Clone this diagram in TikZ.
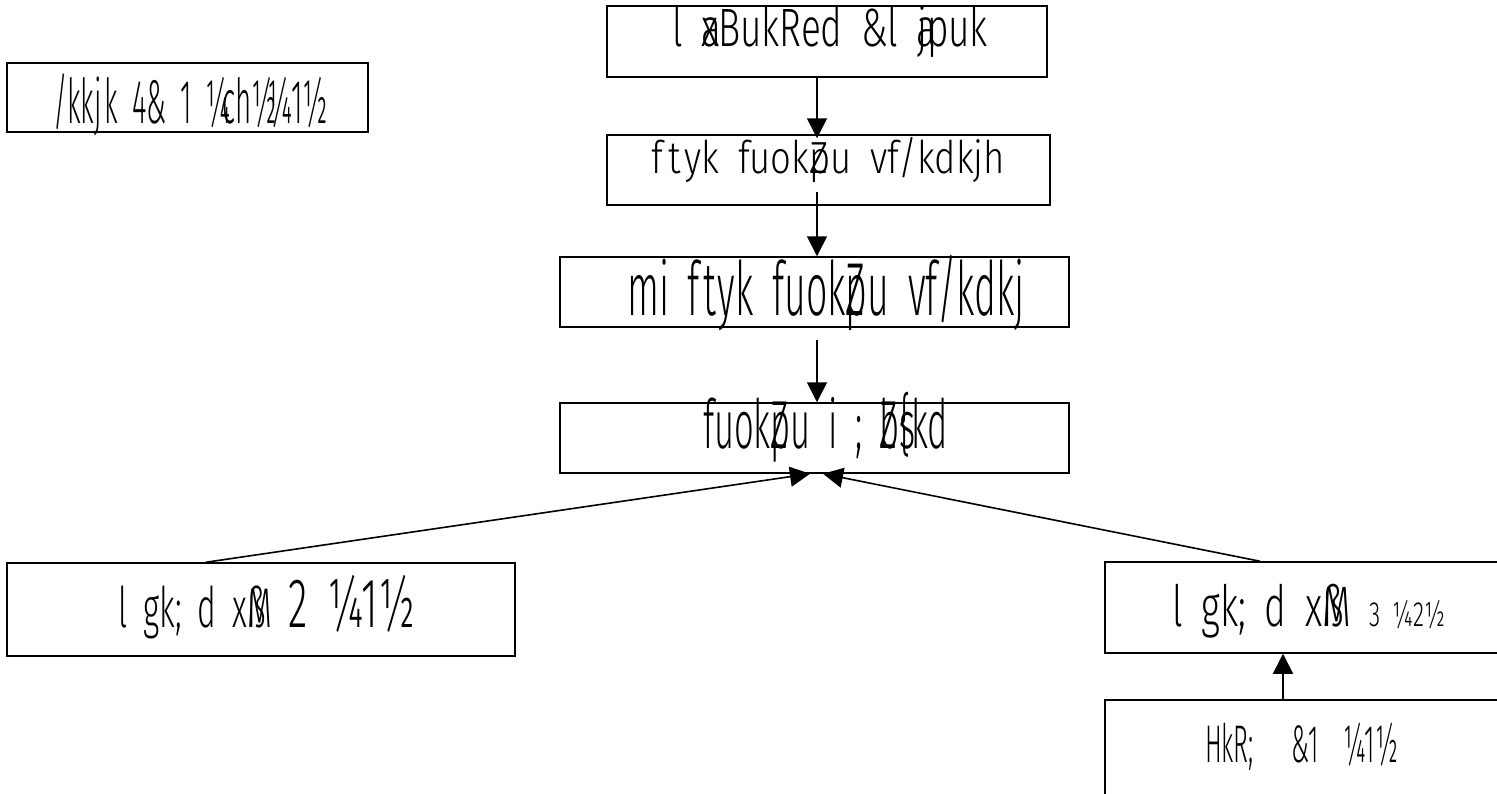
\documentclass[tikz,border=0pt]{standalone}
\usepackage{fontspec}
\setmainfont{Fira Sans}[UprightFont={* Light}, WordSpace=1.8]
\usepackage{graphicx}
\usetikzlibrary{arrows.meta}
\newcommand\fitw[2]{\resizebox{#1}{\height}{#2}}
\newcommand\fsz[1]{\fontsize{#1}{#1}\selectfont}
\tikzset{
  boxn/.style={draw=black, line width=1.5pt, rectangle, inner sep=0pt},
  txt/.style={inner sep=0pt, anchor=base},
  arr/.style={line width=1.6pt, -{Triangle[width=20pt,length=20pt]}},
  ln/.style={line width=1.6pt}
}
\begin{document}
\begin{tikzpicture}[x=1pt,y=-1pt]
\useasboundingbox (0,0) rectangle (1497,793);
\fill[white] (0,0) rectangle (1497,793);
\clip (0,0) rectangle (1497,793);
% boxes
\node[boxn, minimum width=440pt, minimum height=71pt] (b1) at (827,41.5) {};
\node[boxn, minimum width=361pt, minimum height=69pt] (bd) at (187.5,97.5) {};
\node[boxn, minimum width=443pt, minimum height=70pt] (b2) at (828.5,170) {};
\node[boxn, minimum width=509pt, minimum height=70pt] (b3) at (814.5,292) {};
\node[boxn, minimum width=509pt, minimum height=70pt] (b4) at (814.5,438) {};
\node[boxn, minimum width=508pt, minimum height=93pt] (bL) at (261,609.5) {};
\node[boxn, minimum width=405pt, minimum height=91pt] (bR) at (1307.5,607.5) {};
\node[boxn, minimum width=405pt, minimum height=130pt] (bB) at (1307.5,765) {};
% texts
\node[txt] (t1) at (830,46.5) {\fitw{316pt}{\fsz{54}l \rlap{a}xBukRed \&l \rlap{a}jpuk}};
\node[txt] (td) at (190.5,123) {\fitw{275pt}{\fsz{62}/kkj\kern.1em k 4\& 1 ¼\kern-0.3em ch½\kern-0.35em ¼1½}};
\node[txt] (t2) at (828.5,173) {\fitw{353pt}{\fsz{45}f\kern.12em t\kern.12em yk fuok\rlap{Z}pu vf/kdkjh}};
\node[txt] (t3) at (826,315) {\fitw{398pt}{\fsz{75}mi f\kern.08em t\kern.05em yk fuok\rlap{Z}pu vf/kdkj}};
\node[txt] (t4) at (825.5,448) {\fitw{245pt}{\fsz{68}fuok\rlap{Z}pu i ; \rlap{Z}b\rlap{s}\{kd}};
\node[txt] (tL) at (266.5,627) {\fitw{297pt}{\fsz{56}l gk; d x\rlap{ß}M {\fsz{70}2 ¼1½}}};
\node[txt] (tR) at (1308.5,626) {\fitw{273pt}{\fsz{57}l gk; d x\rlap{ß}M {\fsz{35}3 ¼2½}}};
\node[txt] (tB) at (1301.5,762) {\fitw{193pt}{\fsz{53}HkR; \ \ \&1 \ ¼1½}};
% helper coordinates
\coordinate (ax) at (817,0);
\coordinate (lx) at (206,0);
\coordinate (rx) at (1260,0);
\coordinate (tl) at (810,0);
\coordinate (tr) at (823,0);
\coordinate (bx) at (1283,0);
% arrows
\draw[arr] (b1.south -| ax) -- ([yshift=-4pt]b2.north -| ax);
\draw[arr] ([yshift=14pt]b2.south -| ax) -- (b3.north -| ax);
\draw[arr] ([yshift=-12pt]b3.south -| ax) -- (b4.north -| ax);
\draw[arr] (bL.north -| lx) -- (b4.south -| tl);
\draw[arr] (bR.north -| rx) -- (b4.south -| tr);
\draw[arr] (bB.north -| bx) -- (bR.south -| bx);
\end{tikzpicture}
\end{document}
